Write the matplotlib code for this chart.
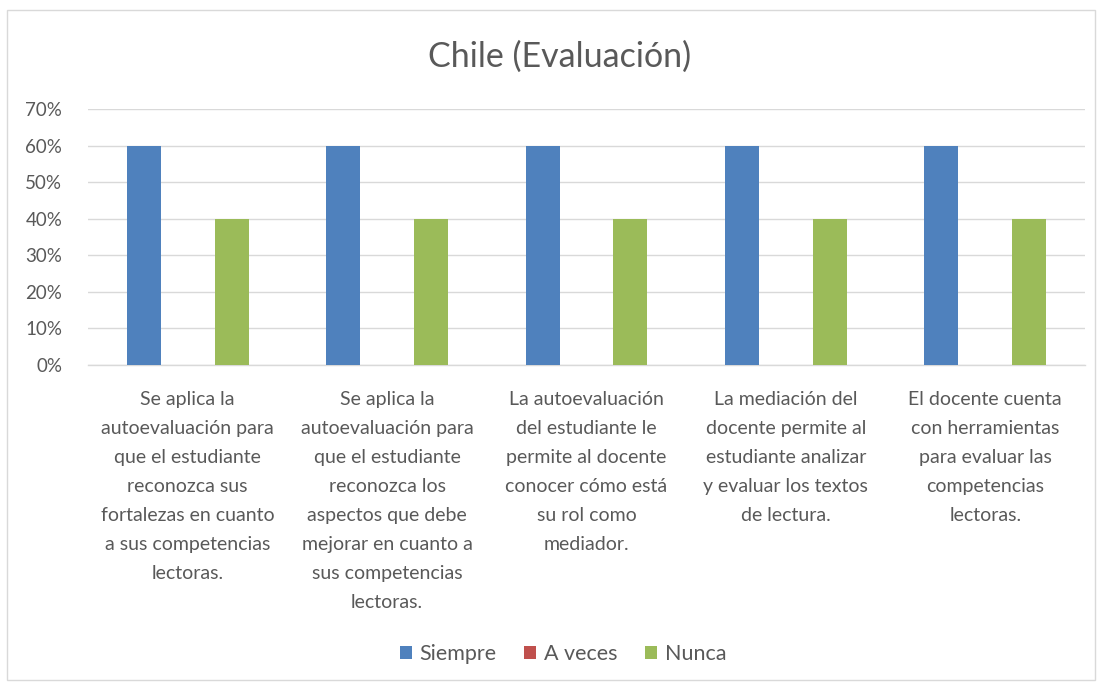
import matplotlib
matplotlib.use("Agg")
import matplotlib.pyplot as plt
import matplotlib.transforms as mtransforms
from matplotlib.patches import Rectangle
import numpy as np

categories = [
    "Se aplica la\nautoevaluación para\nque el estudiante\nreconozca sus\nfortalezas en cuanto\na sus competencias\nlectoras.",
    "Se aplica la\nautoevaluación para\nque el estudiante\nreconozca los\naspectos que debe\nmejorar en cuanto a\nsus competencias\nlectoras.",
    "La autoevaluación\ndel estudiante le\npermite al docente\nconocer cómo está\nsu rol como\nmediador.",
    "La mediación del\ndocente permite al\nestudiante analizar\ny evaluar los textos\nde lectura.",
    "El docente cuenta\ncon herramientas\npara evaluar las\ncompetencias\nlectoras.",
]
series_names = ["Siempre", "A veces", "Nunca"]
siempre = [0.60, 0.60, 0.60, 0.60, 0.60]
a_veces = [0.0, 0.0, 0.0, 0.0, 0.0]
nunca = [0.40, 0.40, 0.40, 0.40, 0.40]
yticks = [0, 0.1, 0.2, 0.3, 0.4, 0.5, 0.6, 0.7]
colors = ["#4F81BD", "#C0504D", "#9BBB59"]

font = "Lato"
txt = "#595959"

fig = plt.figure(figsize=(11.02, 6.86), dpi=100)
fig.patches.append(Rectangle((7/1102, 1-680/686), (1095-7)/1102, (680-10)/686,
                             transform=fig.transFigure, fill=False,
                             edgecolor="#D9D9D9", linewidth=1.0))
ax = fig.add_axes([88/1102, 1-365/686, (1085-88)/1102, (365-109)/686])

x = np.arange(len(categories))
w = 0.17
off = 0.22
for vals, c, dx, name in zip([siempre, a_veces, nunca], colors, [-off, 0, off], series_names):
    ax.bar(x + dx, vals, width=w, color=c, label=name, zorder=3)

ax.set_xlim(-0.5, len(categories) - 0.5)
ax.set_ylim(0, 0.7)
ax.set_yticks(yticks)
ax.set_yticklabels([f"{int(round(v*100))}%" for v in yticks], fontsize=13.5,
                   color=txt, fontfamily=font)
ax.yaxis.grid(True, color="#D9D9D9", linewidth=1.0, zorder=0)
ax.tick_params(axis="y", length=0, pad=18.5)
ax.tick_params(axis="x", length=0, labelbottom=False)
for s in ["top", "right", "left"]:
    ax.spines[s].set_visible(False)
ax.spines["bottom"].set_color("#D9D9D9")
ax.spines["bottom"].set_linewidth(1.0)

trans = mtransforms.blended_transform_factory(ax.transData, ax.transAxes)
for i, lab in enumerate(categories):
    ax.text(i, -0.1, lab, transform=trans, ha="center", va="top",
            fontsize=14, color=txt, fontfamily=font, linespacing=1.86)

fig.text(560/1102, 1-57/686, "Chile (Evaluación)", ha="center", va="center",
         fontsize=24.5, color=txt, fontfamily=font)

leg = fig.legend(loc="center", bbox_to_anchor=(563/1102, 1-654/686), ncol=3,
                 frameon=False, prop={"family": font, "size": 15.5},
                 handlelength=0.55, handleheight=0.55, handletextpad=0.35,
                 columnspacing=1.3)
for t in leg.get_texts():
    t.set_color(txt)

fig.savefig("out.png", dpi=100, facecolor="white")
